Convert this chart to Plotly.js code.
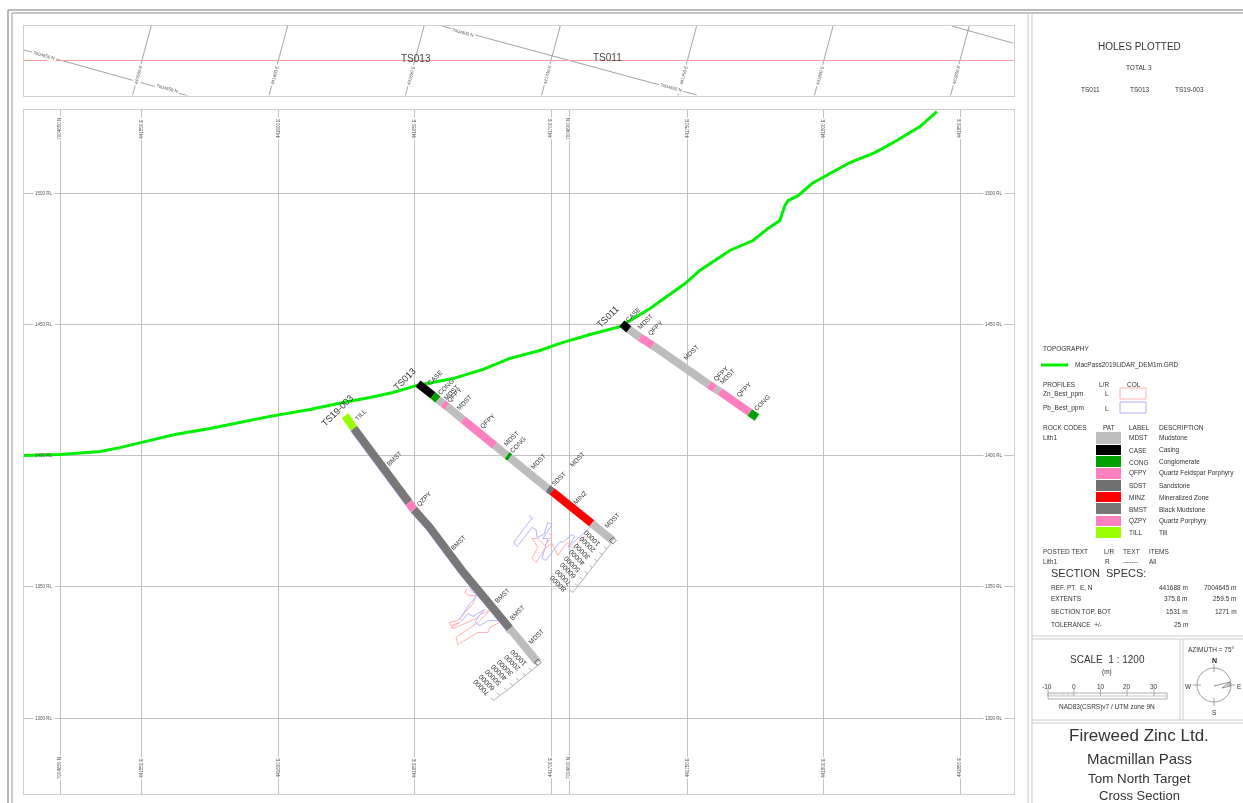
<!DOCTYPE html>
<html>
<head>
<meta charset="utf-8">
<script src="https://cdn.plot.ly/plotly-3.0.1.min.js"></script>
<style>
html,body{margin:0;padding:0;background:#fff;overflow:hidden}
#plot{width:1243px;height:803px;filter:blur(0.6px)}
</style>
</head>
<body>
<div id="plot"></div>
<script>
// ---------- data: section metres along section (d) and reduced level (RL) ----------
const topoD  = [0,13.7,28.9,36.4,45.9,57.3,70.6,82.0,93.4,108.6,121.1,131.4,140.1,149.2,162.9,174.3,184.5,195.9,203.5,214.9,226.3,237.7,251.0,256.6,268.0,276.8,282.5,287.0,288.9,290.1,293.9,299.2,303.3,313.6,323.1,331.4,340.2,346.6];
const topoRL = [1400,1400.4,1401.5,1403,1405.3,1408,1410.3,1412.6,1414.9,1417.5,1420.2,1422.1,1424,1426.7,1429.3,1432.8,1437,1440,1442.7,1446.1,1449.1,1456,1465.5,1470.5,1478.1,1481.9,1486.5,1489.5,1495.2,1497.1,1499,1503.6,1505.9,1511.6,1515.4,1520,1525.3,1531];

const ts013D    = [149.6,155.3,157.2,159.1,160.6,166.7,178.8,183.4,184.5,198.9,200.5,215.6,223.6];
const ts013RL   = [1427.4,1422.9,1421.3,1419.8,1418.7,1413.7,1403.8,1400,1399.2,1387.4,1386.3,1374.1,1367.6];
const ts013Rock = ["CASE","CONG","MDST","QFPY","MDST","QFPY","MDST","CONG","MDST","SDST","MINZ","MDST"];

const ts011D    = [227.0,229.7,233.9,238.8,260.1,262.3,264.2,275.6,278.3];
const ts011RL   = [1450.3,1448,1445,1441.9,1427,1425.5,1424.4,1416.4,1414.5];
const ts011Rock = ["CASE","MDST","QFPY","MDST","QFPY","MDST","QFPY","CONG"];

const ts19D     = [121.9,125.3,146.2,148.1,154.1,166.3,184.5,195.1];
const ts19RL    = [1415.2,1410.3,1382.1,1379.4,1372.6,1356.2,1334.1,1321.2];
const ts19Rock  = ["TILL","BMST","QZPY","BMST","BMST","BMST","MDST"];

const rockCodes = ["MDST","CASE","CONG","QFPY","SDST","MINZ","BMST","QZPY","TILL"];
const rockNames = ["Mudstone","Casing","Conglomerate","Quartz Feldspar Porphyry","Sandstone","Mineralized Zone","Black Mudstone","Quartz Porphyry","Till"];
const rockCols  = ["#bdbdbd","#000000","#00a000","#ff80c0","#707070","#ff0000","#787878","#ff80c0","#99ff00"];

const pbTs013D  = [191.7,193.2,192.1,186.0,187.2,187.9,192.9,194.4,194.8,197.4,198.9,200.5,197.0,198.9,196.7,198.2,203.5,204.6,208.0,209.2,206.5,214.9];
const pbTs013RL = [1377.1,1376,1375.2,1366.9,1365.3,1366.1,1372.6,1371.8,1368.8,1369.9,1374.5,1373.7,1368.4,1368.4,1360.8,1360,1367.2,1366.9,1369.9,1369.1,1365,1372.6];
const znTs013D  = [199.3,200.5,197.8,195.1,192.9,195.1,192.9,194.4,197.8,200.5,202.7,206.2,208.4,213.0];
const znTs013RL = [1370.3,1369.5,1365.7,1368.4,1368.4,1365,1360.8,1359.2,1364.6,1366.5,1361.9,1366.9,1364.6,1369.5];

const pbTs19D   = [169.3,170.5,172,171.2,169.3,165.5,166.3,168.6,170.5,172,175,173.5,171.2,173.1,176.2,180.7,183.8];
const pbTs19RL  = [1349.7,1347.8,1347.4,1345.5,1343.6,1337.9,1337.1,1339.8,1338.7,1339.8,1341.3,1339.8,1336.4,1335.2,1337.1,1337.1,1332.2];
const znTs19D   = [168.2,167.4,168.9,171.2,172,170.5,164.8,161.4,162.1,165.5,162.1,162.9,167.4,172.4,173.1,175.4,176.9,172.4,164,164.8,172.4,176.2,176.9,181.9,183.8];
const znTs19RL  = [1349.3,1347.8,1346.7,1346.7,1347.4,1343.6,1337.1,1336.4,1335.2,1336.4,1334.5,1334.1,1336,1338.3,1339.4,1340.2,1341,1336.4,1330.7,1328,1332.6,1332.6,1334.5,1337.1,1335.2];
const pbBaseD   = [124.1,145,146.9,152.9,165.1,183.3];
const pbBaseRL  = [1409.4,1381.2,1378.5,1371.7,1355.3,1333.2];

const scale13D  = [223.2,221.3,219.6,217.7,215.8,213.9,212.2,210.3,208.4];
const scale13RL = [1366.9,1364.4,1362.1,1359.7,1357.3,1355,1352.7,1350.3,1347.8];
const scale19D  = [195.1,192.8,190.4,187.9,185.6,183.4,180.7,178.4];
const scale19RL = [1320,1318.1,1316.2,1314.3,1312.4,1310.5,1308.6,1306.7];

const label13Txt = ["10000","20000","30000","40000","50000","60000","70000","80000"];
const label13D   = [215.6,213.8,211.8,209.9,208,206.5,204.6,202.7];
const label13RL  = [1368.4,1366.1,1363.4,1361.1,1358.5,1356.2,1353.5,1351.2];
const label19Txt = ["10000","20000","30000","40000","50000","60000","70000"];
const label19D   = [187.6,185.3,182.6,180.3,178,175.7,173.5];
const label19RL  = [1323,1321.1,1319.2,1317.3,1315.4,1313.5,1311.6];

const rockLabelTxt = ["CASE","CONG","MDST","QFPY","MDST","QFPY","MDST","CONG","MDST","SDST","MDST","MINZ","MDST",
                      "CASE","MDST","QFPY","MDST","QFPY","MDST","QFPY","CONG",
                      "TILL","BMST","QZPY","BMST","BMST","BMST","MDST"];
const rockLabelD   = [156,160.2,162.1,163.6,167,176.2,184.9,187.5,195.1,203.1,209.9,211.1,223.2,
                      231.2,235.8,239.9,253.2,264.6,266.9,273.3,280.2,
                      127.9,140.5,151.9,164.8,181.5,187.2,194.4];
const rockLabelRL  = [1429.7,1426.3,1424,1422.9,1420.2,1413,1406.5,1404.2,1397.7,1391.2,1398.5,1384,1375.2,
                      1453.7,1451,1448.4,1439.2,1431.2,1430.1,1425.1,1420.2,
                      1415.6,1398.9,1383.6,1366.9,1346.7,1340.2,1331];
const holeNames = ["TS013","TS19-003","TS011"];
const holeNameD = [144.6,118.8,221.7];
const holeNameRL= [1429.2,1417.1,1452.6];

const eastGridD = [44.8,96.6,148.4,200.1,251.9,303.7,355.4];
const eastLabels= ["441550 E","441600 E","441650 E","441700 E","441750 E","441800 E","441850 E"];
const northGridD= [13.7,207.0];
const northLabels=["7004650 N","7004600 N"];
const rlGrid    = [1300,1350,1400,1450,1500];
const rlLabels  = ["1300 RL","1350 RL","1400 RL","1450 RL","1500 RL"];

// plan strip: offset from section line (v, metres)
const planEastTopD = [48.3,100.1,151.9,203.6,255.4,307.2,358.9];
const planEastBotD = [41.2,93.0,144.8,196.5,248.3,300.1,351.8];
const planNorthD = [[0,62.3],[158.7,255.5],[352.3,375.5]];
const planNorthV = [[4.0,-13.4],[13.1,-13.1],[13.1,6.6]];
const planNorthLblD = [7.6,54.3,166.5,245.5];
const planNorthLblV = [2.0,-10.8,10.8,-10.4];
const planNorthLblT = ["7004650 N","7004650 N","7004600 N","7004600 N"];
const planHoleTxt = ["TS013","TS011"];
const planHoleD = [148.8,221.7];
const planHoleV = [0.9,1.3];

const W=1243,H=803;
const FONT="Liberation Sans, Arial, sans-serif";
const rockCol=c=>rockCols[rockCodes.indexOf(c)];
const traces=[];
const xy={xaxis:"x",yaxis:"y",mode:"lines",hoverinfo:"skip",showlegend:false};

function line(x,y,color,width){traces.push(Object.assign({},xy,{x:x,y:y,line:{color:color,width:width}}));}

// profiles first (behind the holes)
line(pbBaseD,pbBaseRL,"#a88cff",1);
line(pbTs013D,pbTs013RL,"#b4b4ff",1);
line(znTs013D,znTs013RL,"#ffb0b0",1);
line(znTs19D,znTs19RL,"#ffb0b0",1);
line(pbTs19D,pbTs19RL,"#b4b4ff",1);
line(topoD,topoRL,"#00ee00",3);

function hole(d,rl,rock,w){
  let i=0;
  while(i<rock.length){
    let j=i;
    while(j+1<rock.length && rock[j+1]===rock[i]) j++;
    line(d.slice(i,j+2),rl.slice(i,j+2),rockCol(rock[i]),w);
    i=j+1;
  }
}
hole(ts013D,ts013RL,ts013Rock,8);
hole(ts011D,ts011RL,ts011Rock,8);
hole(ts19D,ts19RL,ts19Rock,8);

// end-of-hole profile scales
function scaleBar(d,rl){
  const xs=[],ys=[];
  d.forEach((v,i)=>{xs.push(v,v-1.1,null);ys.push(rl[i],rl[i]+0.9,null);});
  line(d,rl,"#b0b0b0",1);
  line(xs,ys,"#b0b0b0",1);
}
scaleBar(scale13D,scale13RL);
scaleBar(scale19D,scale19RL);
traces.push(Object.assign({},xy,{mode:"markers",x:[ts013D[12],ts19D[7]],y:[ts013RL[12],ts19RL[7]],
  marker:{symbol:"diamond-open",size:5,color:"#555",line:{width:0.8,color:"#555"}}}));

// plan strip
const p2={xaxis:"x2",yaxis:"y2",mode:"lines",hoverinfo:"skip",showlegend:false};
eastGridD.forEach((v,i)=>traces.push(Object.assign({},p2,{x:[planEastTopD[i],planEastBotD[i]],y:[13.1,-13.29],line:{color:"#8a8a8a",width:0.8}})));
planNorthD.forEach((v,i)=>traces.push(Object.assign({},p2,{x:v,y:planNorthV[i],line:{color:"#8a8a8a",width:0.8}})));
traces.push(Object.assign({},p2,{x:[0,375.9],y:[0,0],line:{color:"#ff9c9c",width:1}}));

const ann=[];
function pt(px,py,text,size,anchor,opts){
  ann.push(Object.assign({xref:"paper",yref:"paper",x:px/W,y:1-py/H,text:text,showarrow:false,
    xanchor:anchor||"left",yanchor:"middle",font:{family:FONT,size:size,color:"#333"},borderpad:0},opts||{}));
}
function dt(d,rl,text,size,angle,opts){
  ann.push(Object.assign({xref:"x",yref:"y",x:d,y:rl,text:text,showarrow:false,textangle:angle,
    xanchor:"center",yanchor:"middle",font:{family:FONT,size:size,color:"#333"},borderpad:0},opts||{}));
}
function pl(d,v,text,size,angle,opts){
  ann.push(Object.assign({xref:"x2",yref:"y2",x:d,y:v,text:text,showarrow:false,textangle:angle,
    xanchor:"center",yanchor:"middle",font:{family:FONT,size:size,color:"#444"},borderpad:0},opts||{}));
}
const tiny={font:{family:FONT,size:4.5,color:"#555"},bgcolor:"#fff",borderpad:1};
const tinyClear={font:{family:FONT,size:4.5,color:"#555"},borderpad:1};
// grid labels
eastLabels.forEach((t,i)=>{
  dt(eastGridD[i],1524.5,t,4.5,-90,tiny);
  dt(eastGridD[i],1281,t,4.5,-90,tiny);
  pl(eastGridD[i]-1.5,-5.6,t,4.5,-75,tiny);
});
northLabels.forEach((t,i)=>{
  dt(northGridD[i],1524.5,t,4.5,-90,tiny);
  dt(northGridD[i],1281,t,4.5,-90,tiny);
});
rlLabels.forEach((t,i)=>{
  dt(7.5,rlGrid[i],t,4.5,0,rlGrid[i]===1400?tinyClear:tiny);
  dt(368.3,rlGrid[i],t,4.5,0,tiny);
});
planNorthLblT.forEach((t,i)=>pl(planNorthLblD[i],planNorthLblV[i],t,4.5,15,tiny));
planHoleTxt.forEach((t,i)=>pl(planHoleD[i],planHoleV[i],t,10,0));
rockLabelTxt.forEach((t,i)=>dt(rockLabelD[i],rockLabelRL[i],t,6.5,-45));
holeNames.forEach((t,i)=>dt(holeNameD[i],holeNameRL[i],t,9.2,-45));
label13Txt.forEach((t,i)=>dt(label13D[i],label13RL[i],t,7,-135));
label19Txt.forEach((t,i)=>dt(label19D[i],label19RL[i],t,7,-135));

// side panel text
const S=6.5;
pt(1139,46,"HOLES PLOTTED",10,"center");
pt(1139,67,"TOTAL 3",6.5,"center");
pt(1090,89,"TS011",6.5,"center");pt(1140,89,"TS013",6.5,"center");pt(1189,89,"TS19-003",6.5,"center");
pt(1042,349,"TOPOGRAPHY",S);
pt(1074,365,"MacPass2019LiDAR_DEM1m.GRD",S);
pt(1042,384,"PROFILES",S);pt(1098,384,"L/R",S);pt(1126,384,"COL",S);
pt(1042,394,"Zn_Best_ppm",S);pt(1107,394,"L",S,"center");
pt(1042,408,"Pb_Best_ppm",S);pt(1107,408,"L",S,"center");
pt(1042,427,"ROCK CODES",S);pt(1109,427,"PAT",S,"center");pt(1128,427,"LABEL",S);pt(1158,427,"DESCRIPTION",S);
pt(1042,438,"Lith1",S);
const rowY=[438,450,462,473,485,497,509,521,532];
const swT=[432,445,456,468,480,492,503,516,527];
const swB=[444,455,467,479,491,502,514,526,538];
rockCodes.forEach((c,i)=>{pt(1128,rowY[i],c,S);pt(1158,rowY[i],rockNames[i],S);});
pt(1042,551,"POSTED TEXT",S);pt(1103,551,"L/R",S);pt(1122,551,"TEXT",S);pt(1148,551,"ITEMS",S);
pt(1042,561,"Lith1",S);pt(1107,561,"R",S,"center");pt(1122,561,"-------",S);pt(1148,561,"All",S);
pt(1050,573,"SECTION  SPECS:",11);
const specNames=["REF. PT.  E, N","EXTENTS","SECTION TOP, BOT","TOLERANCE  +/-"];
const specA=["441688 m","375.8 m","1531 m","25 m"];
const specB=["7004645 m","259.5 m","1271 m",""];
const specY=[587,598,611,624];
specNames.forEach((n,i)=>{pt(1050,specY[i],n,S);pt(1189,specY[i],specA[i],S,"right");if(specB[i])pt(1238,specY[i],specB[i],S,"right");});
pt(1107,659,"SCALE  1 : 1200",10,"center");
pt(1107,672,"(m)",S,"center");
const barLbl=["-10","0","10","20","30"], barX=[1047,1074,1100.5,1127,1154];
barLbl.forEach((t,i)=>pt(barX[i],686,t,S,"center"));
pt(1107,707,"NAD83(CSRS)v7 / UTM zone 9N",S,"center");
pt(1211,649,"AZIMUTH = 75°",S,"center");
pt(1214,660,"<b>N</b>",7,"center",{font:{family:FONT,size:7,color:"#222"}});
pt(1188,686,"W",6.5,"center");pt(1239,686,"E",6.5,"center");pt(1214,712,"S",6.5,"center");
pt(1139,735,"Fireweed Zinc Ltd.",17,"center");
pt(1139,758,"Macmillan Pass",15,"center");
pt(1139,778,"Tom North Target",13.4,"center");
pt(1139,795,"Cross Section",13,"center");

// frame and legend shapes in page fractions
const sh=[];
const fx=v=>v/W, fy=v=>1-v/H;
function seg(x0,y0,x1,y1,c,w){sh.push({type:"line",xref:"paper",yref:"paper",x0:fx(x0),y0:fy(y0),x1:fx(x1),y1:fy(y1),line:{color:c,width:w}});}
function box(x0,y0,x1,y1,fill,lc,w){sh.push({type:"rect",xref:"paper",yref:"paper",x0:fx(x0),y0:fy(y0),x1:fx(x1),y1:fy(y1),fillcolor:fill,line:{color:lc||fill,width:w===undefined?0:w}});}
seg(8,10,1243,10,"#777",1.2);seg(12,13,1243,13,"#888",1);
seg(8,10,8,803,"#888",1.2);seg(12,13,12,803,"#999",1);
seg(1028,13,1028,803,"#ccc",1);seg(1032,13,1032,803,"#ccc",1);
seg(1032,636,1243,636,"#ccc",1);seg(1032,639,1243,639,"#ccc",1);
seg(1032,720,1243,720,"#ccc",1);seg(1032,723,1243,723,"#ccc",1);
seg(1180,639,1180,720,"#ccc",1);seg(1183,639,1183,720,"#ccc",1);
seg(1041,365,1068,365,"#00ee00",3);
box(1120,388,1146,399,"rgba(0,0,0,0)","#ffb0b0",1);
box(1120,402,1146,413,"rgba(0,0,0,0)","#b0b0ff",1);
rockCols.forEach((c,i)=>box(1096,swT[i],1121,swB[i],c));
box(1048,693,1167,699,"rgba(0,0,0,0)","#999",0.8);
seg(1048,696,1167,696,"#aaa",0.6);
barX.slice(1).forEach(x=>seg(x,689,x,696,"#999",0.8));
seg(1048,689,1048,696,"#999",0.8);
[1051,1054,1056,1059,1062,1064,1067,1069,1072].forEach(x=>seg(x,693,x,696,"#aaa",0.5));
sh.push({type:"circle",xref:"paper",yref:"paper",x0:fx(1197),x1:fx(1231),y0:fy(668),y1:fy(702),line:{color:"#888",width:0.8}});
seg(1214,664,1214,672,"#888",0.8);seg(1214,698,1214,706,"#888",0.8);
seg(1193,685,1201,685,"#888",0.8);seg(1227,685,1235,685,"#888",0.8);
seg(1214,686,1230,682,"#777",0.8);seg(1222,688,1230,682,"#777",0.8);seg(1222,688,1230,686,"#777",0.8);seg(1230,682,1230,686,"#777",0.8);

const axBase={showgrid:true,zeroline:false,showticklabels:false,ticks:"",showline:true,mirror:true,linecolor:"#cfcfcf",linewidth:1,fixedrange:true};
const layout={
  width:W,height:H,margin:{l:0,r:0,t:0,b:0},paper_bgcolor:"#fff",plot_bgcolor:"#fff",showlegend:false,
  font:{family:FONT},
  xaxis:Object.assign({},axBase,{domain:[fx(24),fx(1014)],range:[0,375.9],tickmode:"array",tickvals:eastGridD.concat(northGridD),gridcolor:"#c2c2c2",gridwidth:1,anchor:"y"}),
  yaxis:Object.assign({},axBase,{domain:[fy(794),fy(110)],range:[1271.05,1531.62],tickmode:"array",tickvals:rlGrid,gridcolor:"#c2c2c2",gridwidth:1,anchor:"x"}),
  xaxis2:Object.assign({},axBase,{showgrid:false,domain:[fx(24),fx(1014)],range:[0,375.9],anchor:"y2"}),
  yaxis2:Object.assign({},axBase,{showgrid:false,domain:[fy(95.5),fy(26)],range:[-13.29,13.1],anchor:"x2"}),
  shapes:sh,annotations:ann
};
Plotly.newPlot("plot",traces,layout,{displayModeBar:false,staticPlot:true});
</script>
</body>
</html>
